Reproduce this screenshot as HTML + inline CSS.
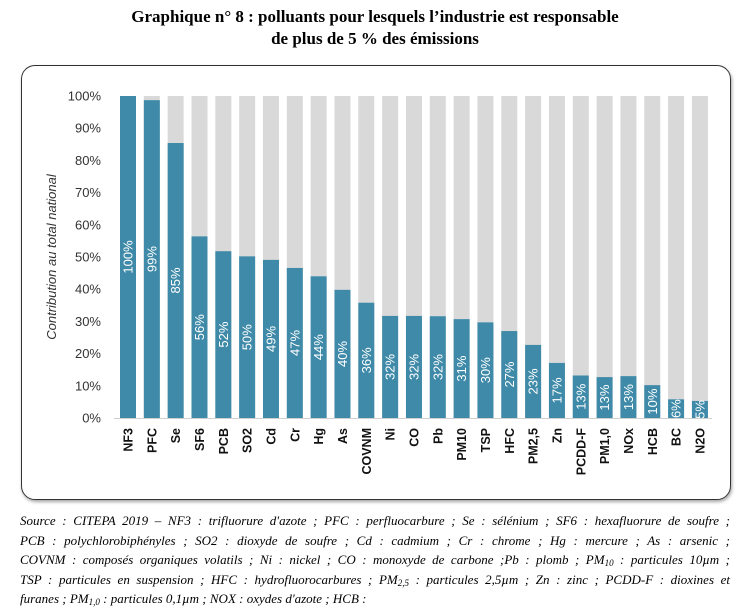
<!DOCTYPE html>
<html><head><meta charset="utf-8"><style>
body{margin:0;background:#fff;width:750px;height:597px;overflow:hidden;position:relative}
.t{position:absolute;left:0;width:750px;top:6px;text-align:center;font:bold 17px/22px "Liberation Serif",serif;color:#000}
.box{position:absolute;left:21px;top:65px;width:708px;height:433px;border:1.5px solid #333;border-radius:14px;box-shadow:1px 2px 3px rgba(0,0,0,.35)}
.src{position:absolute;left:20px;top:511px;width:710px;font:italic 13px/19.6px "Liberation Serif",serif;color:#000;white-space:nowrap}
.src div{text-align:justify;text-align-last:justify}
.src div.l{text-align-last:left}
sub{font-size:9px;vertical-align:-2px;line-height:0}
</style></head><body>
<div class="t">Graphique n° 8 : polluants pour lesquels l’industrie est responsable<br>de plus de 5 % des émissions</div>
<div class="box"></div>
<svg id="s" width="750" height="597" style="position:absolute;left:0;top:0" font-family="Liberation Sans, DejaVu Sans, sans-serif"></svg>
<div class="src">
<div>Source : CITEPA 2019 – NF3 : trifluorure d'azote ; PFC : perfluocarbure ; Se : sélénium ; SF6 : hexafluorure de soufre ;</div>
<div>PCB : polychlorobiphényles ; SO2 : dioxyde de soufre ; Cd : cadmium ; Cr : chrome ; Hg : mercure ; As : arsenic ;</div>
<div>COVNM : composés organiques volatils ; Ni : nickel ; CO : monoxyde de carbone ;Pb : plomb ; PM<sub>10</sub> : particules 10µm ;</div>
<div>TSP : particules en suspension ; HFC : hydrofluorocarbures ; PM<sub>2,5</sub> : particules 2,5µm ; Zn : zinc ; PCDD-F : dioxines et</div>
<div class="l">furanes ; PM<sub>1,0</sub> : particules 0,1µm ; NOX : oxydes d'azote ; HCB :</div>
</div>
<script>
var n=["NF3","PFC","Se","SF6","PCB","SO2","Cd","Cr","Hg","As","COVNM","Ni","CO","Pb","PM10","TSP","HFC","PM2,5","Zn","PCDD-F","PM1,0","NOx","HCB","BC","N2O"];
var v=[100,98.7,85.4,56.4,51.8,50.2,49.1,46.6,44,39.8,35.8,31.7,31.7,31.6,30.7,29.7,27,22.7,17.1,13.2,12.7,13,10.2,5.8,5.3];
var s="",y0=418,H=322;
for(var i=0;i<=10;i++){var y=y0-H*i/10;s+='<text x="101" y="'+(y+4.5)+'" font-size="13" text-anchor="end" fill="#333">'+(i*10)+'%</text>';}
s+='<text transform="translate(56,257) rotate(-90)" font-size="13" font-style="italic" text-anchor="middle" fill="#333">Contribution au total national</text>';
for(var i=0;i<25;i++){var c=128+i*23.83,x=c-8,h=H*v[i]/100;
s+='<rect x="'+x+'" y="'+(y0-H)+'" width="16" height="'+H+'" fill="#d9d9d9"/>';
s+='<rect x="'+x+'" y="'+(y0-h)+'" width="16" height="'+h+'" fill="#3e8aa8"/>';
s+='<text transform="translate('+(c+4.5)+','+(y0-h/2)+') rotate(-90)" font-size="13" text-anchor="middle" fill="#fff">'+Math.round(v[i])+'%</text>';
s+='<text transform="translate('+(c+4.5)+',428) rotate(-90)" font-size="12.5" font-weight="bold" text-anchor="end" fill="#111">'+n[i]+'</text>';}
s+='<line x1="114" y1="418.5" x2="712" y2="418.5" stroke="#d0d0d0" stroke-width="1"/>';
document.getElementById("s").innerHTML=s;
</script>
</body></html>
